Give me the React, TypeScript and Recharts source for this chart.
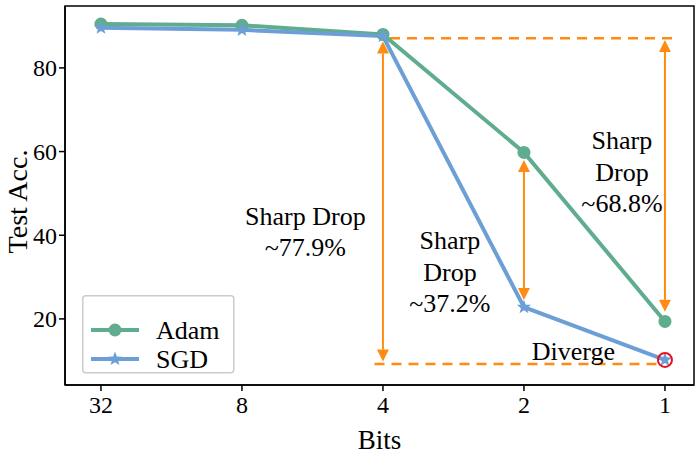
import React from "react";
import {
  LineChart,
  Line,
  XAxis,
  YAxis,
  ReferenceLine,
  ReferenceDot,
  ReferenceArea,
  Legend,
  Label,
} from "recharts";

// ---- data ----
const bits = ["32", "8", "4", "2", "1"];
const adamAcc = [90.5, 90.2, 88.0, 59.8, 19.4];
const sgdAcc = [89.6, 89.1, 87.6, 22.8, 10.2];
const yTicks = [20, 40, 60, 80];

// annotations (data coordinates: x = bit index, y = accuracy)
const dropArrows = [
  { x: 2, from: 86.3, to: 9.8 },
  { x: 3, from: 58.0, to: 24.5 },
  { x: 4, from: 86.7, to: 21.7 },
];
const guideLines = [
  { y: 87.1, x1: 2.05, x2: 4.1 },
  { y: 9.2, x1: 1.94, x2: 3.95 },
];
const notes = [
  { x: 1.45, y: 42.5, lines: ["Sharp Drop", "~77.9%"] },
  { x: 2.475, y: 36.7, lines: ["Sharp", "Drop", "~37.2%"] },
  { x: 3.695, y: 60.6, lines: ["Sharp", "Drop", "~68.8%"] },
  { x: 3.35, y: 10.2, lines: ["Diverge"] },
];

const GREEN = "#5fad8e";
const BLUE = "#6b9fd6";
const ORANGE = "#ff8c12";
const RED = "#e4131d";
const FONT = '"Liberation Serif", "Times New Roman", serif';

const X_DOMAIN: [number, number] = [-0.255, 4.206];
const Y_DOMAIN: [number, number] = [4.2, 94.8];

const chartData = bits.map((b, i) => ({ idx: i, bits: b, adam: adamAcc[i], sgd: sgdAcc[i] }));

function starPoints(cx: number, cy: number, R: number) {
  const pts: string[] = [];
  for (let i = 0; i < 10; i++) {
    const r = i % 2 === 0 ? R : R * 0.42;
    const a = -Math.PI / 2 + (i * Math.PI) / 5;
    pts.push(`${cx + r * Math.cos(a)},${cy + r * Math.sin(a)}`);
  }
  return pts.join(" ");
}

const SgdDot = (props: any) => {
  const { cx, cy, index } = props;
  if (cx == null || cy == null) return <g />;
  return (
    <g key={`sgd-${index}`}>
      <polygon points={starPoints(cx, cy, 7.5)} fill={BLUE} />
      {/* the diverged run is circled in red */}
      {index === sgdAcc.length - 1 && (
        <circle cx={cx} cy={cy} r={7} fill="none" stroke={RED} strokeWidth={2} />
      )}
    </g>
  );
};

const ArrowShape = (p: any) => {
  const { x1, y1, x2, y2 } = p;
  const head = 12;
  const half = 6;
  const dir = y2 > y1 ? 1 : -1;
  return (
    <g>
      <line x1={x1} y1={y1 + dir * head} x2={x2} y2={y2 - dir * head} stroke={ORANGE} strokeWidth={2} />
      <polygon points={`${x1},${y1} ${x1 - half},${y1 + dir * head} ${x1 + half},${y1 + dir * head}`} fill={ORANGE} />
      <polygon points={`${x2},${y2} ${x2 - half},${y2 - dir * head} ${x2 + half},${y2 - dir * head}`} fill={ORANGE} />
    </g>
  );
};

const noteShape = (lines: string[]) => (p: any) => (
  <text x={p.cx} y={p.cy} textAnchor="middle" fontFamily={FONT} fontSize={26} fill="#000">
    {lines.map((t, i) => (
      <tspan key={t + i} x={p.cx} dy={i === 0 ? 0 : 31.5}>
        {t}
      </tspan>
    ))}
  </text>
);

const LegendBox = () => (
  <svg width={154} height={80} style={{ display: "block" }}>
    <rect x={0.75} y={0.75} width={151} height={77} rx={3} fill="rgba(255,255,255,0.85)" stroke="#cccccc" strokeWidth={1.5} />
    <line x1={9} y1={35} x2={57} y2={35} stroke={GREEN} strokeWidth={4} />
    <circle cx={33} cy={35} r={6.5} fill={GREEN} />
    <text x={74} y={44} fontFamily={FONT} fontSize={26} fill="#000">Adam</text>
    <line x1={9} y1={64} x2={57} y2={64} stroke={BLUE} strokeWidth={4} />
    <polygon points={starPoints(33, 64, 7.5)} fill={BLUE} />
    <text x={74} y={73} fontFamily={FONT} fontSize={26} fill="#000">SGD</text>
  </svg>
);

export default function App() {
  const tickStyle = { fontFamily: FONT, fontSize: 24, fill: "#000" };
  return (
    <div style={{ position: "absolute", left: 0, top: 0, width: 698, height: 454, background: "#fff" }}>
      <LineChart width={698} height={454} data={chartData} margin={{ top: 6, right: 4, bottom: 0, left: 0 }}>
        <XAxis
          dataKey="idx"
          type="number"
          domain={X_DOMAIN}
          allowDataOverflow
          ticks={[0, 1, 2, 3, 4]}
          tickFormatter={(v: number) => bits[v]}
          height={69}
          tick={tickStyle}
          tickMargin={5}
          tickSize={6}
          axisLine={{ stroke: "#000", strokeWidth: 1.5 }}
          tickLine={{ stroke: "#000", strokeWidth: 1.5 }}
        >
          <Label
            content={(p: any) => (
              <text x={p.viewBox.x + p.viewBox.width / 2} y={449} textAnchor="middle" fontFamily={FONT} fontSize={27} fill="#000">
                Bits
              </text>
            )}
          />
        </XAxis>
        <YAxis
          type="number"
          domain={Y_DOMAIN}
          allowDataOverflow
          ticks={yTicks}
          width={65}
          tick={tickStyle}
          tickSize={6}
          axisLine={{ stroke: "#000", strokeWidth: 1.5 }}
          tickLine={{ stroke: "#000", strokeWidth: 1.5 }}
        >
          <Label
            content={(p: any) => {
              const cx = 17;
              const cy = p.viewBox.y + p.viewBox.height / 2 + 6;
              return (
                <text x={cx} y={cy} transform={`rotate(-90, ${cx}, ${cy})`} textAnchor="middle" dominantBaseline="central" fontFamily={FONT} fontSize={28} fill="#000">
                  Test Acc.
                </text>
              );
            }}
          />
        </YAxis>

        {/* frame around the plot */}
        <ReferenceArea x1={X_DOMAIN[0]} x2={X_DOMAIN[1]} y1={Y_DOMAIN[0]} y2={Y_DOMAIN[1]} fill="none" stroke="#000" strokeWidth={1.5} strokeOpacity={1} fillOpacity={0} />

        {guideLines.map((g, i) => (
          <ReferenceLine
            key={`g${i}`}
            segment={[{ x: g.x1, y: g.y }, { x: g.x2, y: g.y }]}
            stroke={ORANGE}
            strokeWidth={2.5}
            strokeDasharray="10 7"
          />
        ))}

        {dropArrows.map((a, i) => (
          <ReferenceLine
            key={`a${i}`}
            segment={[{ x: a.x, y: a.from }, { x: a.x, y: a.to }]}
            shape={ArrowShape}
          />
        ))}

        <Line type="linear" dataKey="adam" name="Adam" stroke={GREEN} strokeWidth={4} dot={{ r: 6.5, fill: GREEN, stroke: GREEN, strokeWidth: 0 }} activeDot={false} isAnimationActive={false} />
        <Line type="linear" dataKey="sgd" name="SGD" stroke={BLUE} strokeWidth={4} dot={SgdDot} activeDot={false} isAnimationActive={false} />

        {notes.map((n, i) => (
          <ReferenceDot key={`n${i}`} x={n.x} y={n.y} r={0} shape={noteShape(n.lines)} />
        ))}

        <Legend
          layout="horizontal"
          align="center"
          verticalAlign="middle"
          content={() => <LegendBox />}
          wrapperStyle={{ position: "absolute", left: 82, top: 295, width: 154, height: 80 }}
        />
      </LineChart>
    </div>
  );
}
